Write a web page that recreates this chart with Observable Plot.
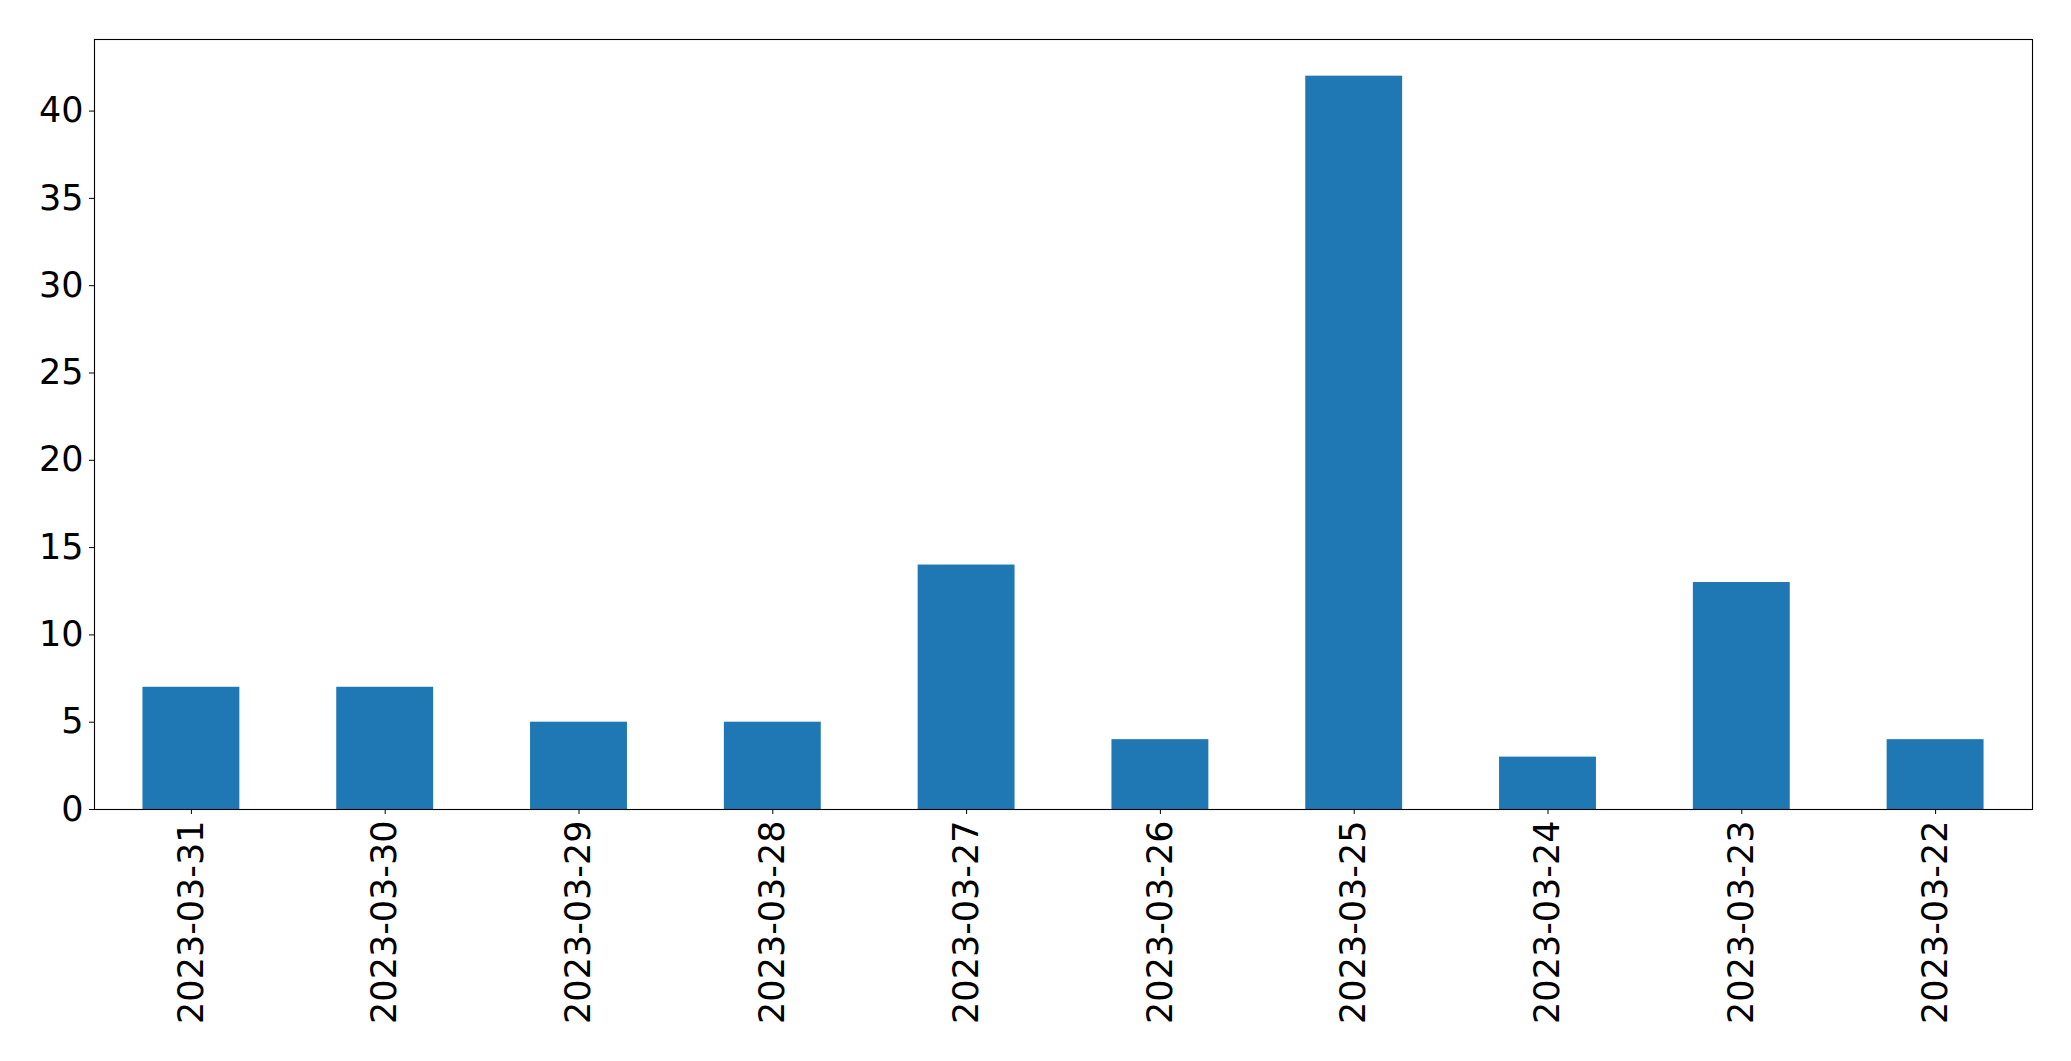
<!DOCTYPE html>
<html>
<head>
<meta charset="utf-8">
<script src="https://cdn.jsdelivr.net/npm/d3@7"></script>
<script src="https://cdn.jsdelivr.net/npm/@observablehq/plot@0.6"></script>
<style>
  html, body { margin: 0; padding: 0; background: #fff; }
  #chart svg { display: block; }
</style>
</head>
<body>
<div id="chart"></div>
<script>
const dates = ["2023-03-31","2023-03-30","2023-03-29","2023-03-28","2023-03-27","2023-03-26","2023-03-25","2023-03-24","2023-03-23","2023-03-22"];
const counts = [7, 7, 5, 5, 14, 4, 42, 3, 13, 4];
const yTicks = [0, 5, 10, 15, 20, 25, 30, 35, 40];

const data = dates.map((d, i) => ({date: d, count: counts[i]}));

const chart = Plot.plot({
  width: 2071,
  height: 1061,
  marginLeft: 94,
  marginRight: 39,
  marginTop: 39,
  marginBottom: 252,
  style: {fontFamily: "DejaVu Sans", fontSize: "35px", color: "black", background: "white"},
  x: {domain: dates, paddingInner: 0.5, paddingOuter: 0.25, round: false, label: null},
  y: {domain: [0, 44.1], label: null},
  marks: [
    Plot.barY(data, {x: "date", y: "count", fill: "#1f77b4"}),
    Plot.frame({stroke: "black", strokeWidth: 1.1}),
    Plot.axisY({ticks: yTicks, tickSize: 5, tickPadding: 6, fontSize: 35, tickFormat: d => String(d), label: null, stroke: "black"}),
    Plot.axisX({tickRotate: -90, tickSize: 5, tickPadding: 6, fontSize: 35, label: null, stroke: "black"})
  ]
});
document.getElementById("chart").appendChild(chart);
</script>
</body>
</html>
